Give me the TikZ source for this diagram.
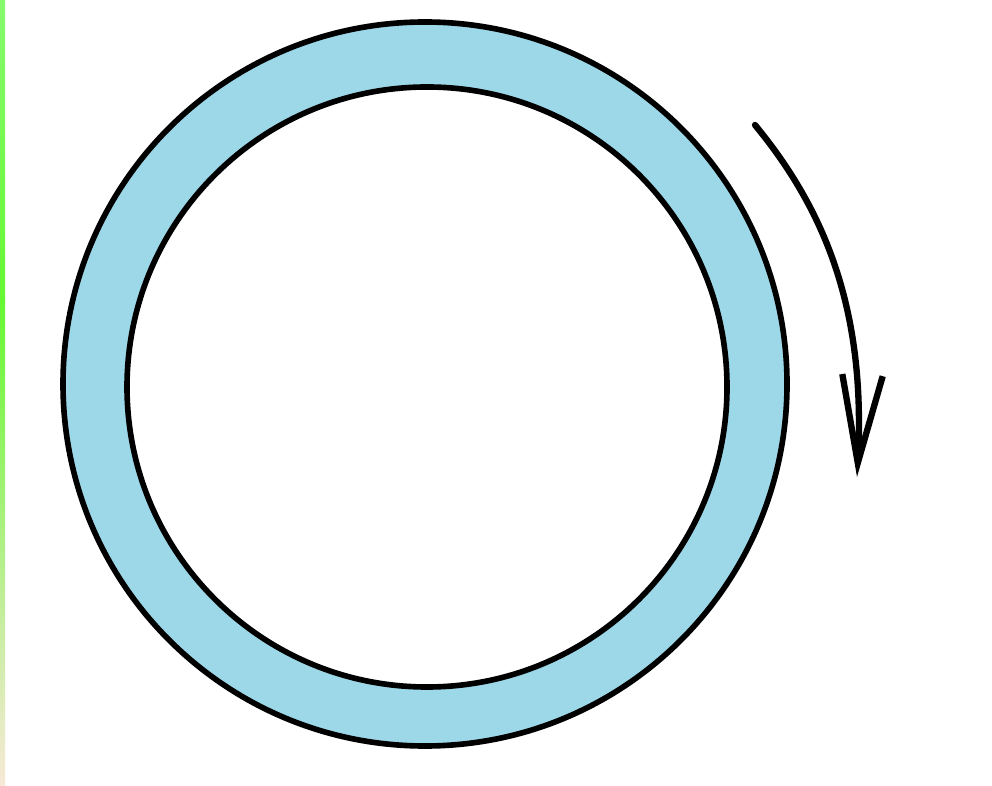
\documentclass[tikz,border=0pt]{standalone}
\usepackage{xcolor}
\usetikzlibrary{arrows.meta}
\definecolor{ringBlue}{HTML}{9DD8E8}
\definecolor{stripGreen}{HTML}{66F733}
\definecolor{stripTop}{HTML}{86FA6E}
\definecolor{stripBottom}{HTML}{F7E9D6}

\begin{document}
\begin{tikzpicture}[
  x=0.01cm, y=-0.01cm,
  outline/.style={draw=black, line width=1.6pt},
  turn/.style={line width=1.8pt, line cap=round, line join=round, -{Straight Barb[length=25pt, width=11.5pt, line width=1.8pt]}},
]
  \useasboundingbox (0,0) rectangle (992,786);
  \fill[white] (0,0) rectangle (992,786);
  % left strip
  \shade[top color=stripTop, bottom color=stripGreen] (0,0) rectangle (5,300);
  \shade[top color=stripGreen, bottom color=stripBottom] (0,300) rectangle (5,786);
  % ring
  \coordinate (outerc) at (425,384);
  \coordinate (innerc) at (427,387);
  \fill[ringBlue, even odd rule] (outerc) circle (362) (innerc) circle (300);
  \draw[outline] (outerc) circle (362);
  \draw[outline] (innerc) circle (300);
  % direction of turning
  \coordinate (from) at (755,125);
  \coordinate (to) at (857,477);
  \draw[turn] (from) .. controls (825,210) and (866,310) .. (to);
\end{tikzpicture}
\end{document}
